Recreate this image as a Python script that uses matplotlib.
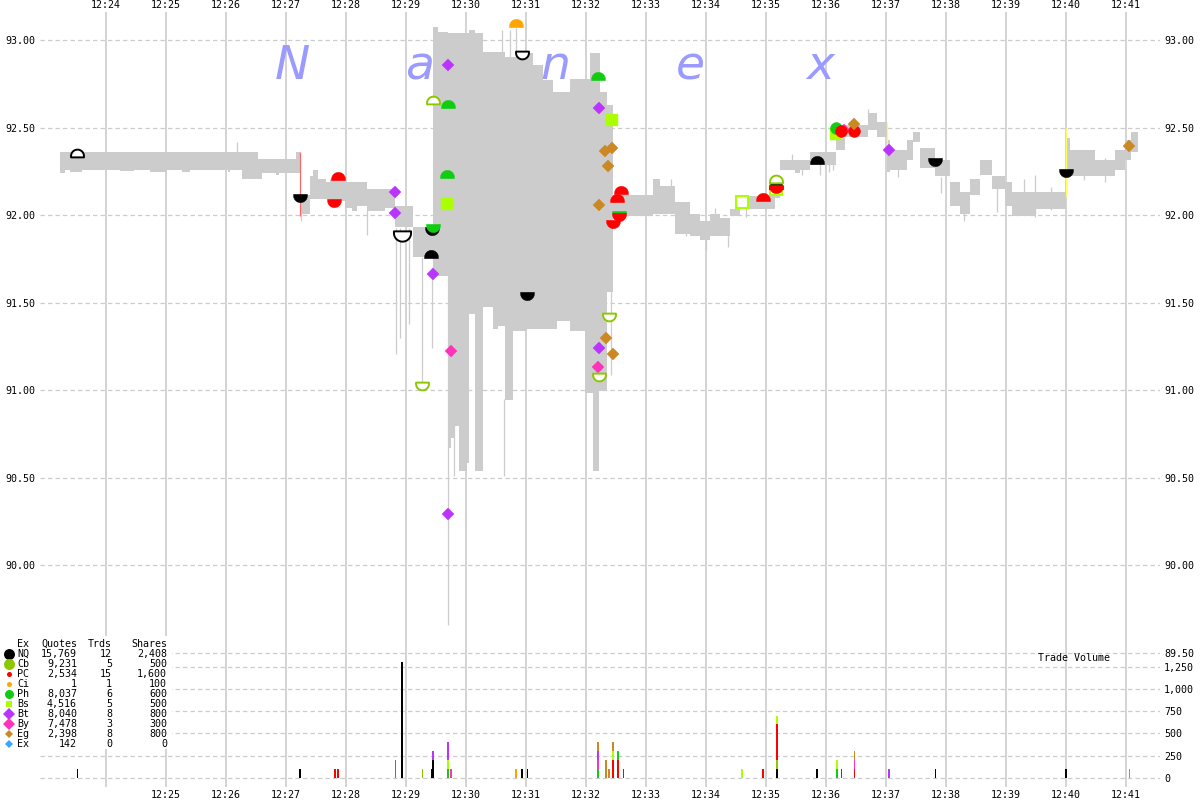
import numpy as np
import matplotlib.pyplot as plt
from matplotlib.path import Path

# --- data (time = minutes after 12:00, prices in $) ---
# quote band (bid/ask envelope), step values
band_t = [23.24, 23.32, 23.41, 23.61, 24.24, 24.47, 24.74, 25.02, 25.27, 25.41,
          26.04, 26.07, 26.27, 26.54, 26.61, 26.84, 26.89, 27.17, 27.24, 27.41,
          27.46, 27.54, 27.67, 27.74, 27.99, 28.10, 28.19, 28.36, 28.66, 28.82,
          29.12, 29.46, 29.54, 29.71, 29.76, 29.81, 29.89, 30.02, 30.06, 30.16,
          30.29, 30.46, 30.54, 30.66, 30.79, 30.86, 31.02, 31.12, 31.29, 31.46,
          31.52, 31.74, 31.99, 32.07, 32.12, 32.22, 32.24, 32.36, 32.46, 32.66,
          33.12, 33.24, 33.49, 33.74, 33.91, 34.07, 34.24, 34.41, 34.57, 35.16,
          35.24, 35.49, 35.57, 35.74, 36.17, 36.32, 36.71, 36.86, 37.02, 37.07,
          37.36, 37.46, 37.57, 37.82, 38.07, 38.24, 38.41, 38.57, 38.77, 38.99,
          39.11, 39.49, 40.01, 40.07, 40.49, 40.82, 40.99, 41.09, 41.21]
band_lo = [92.244, 92.257, 92.250, 92.257, 92.252, 92.257, 92.250, 92.257, 92.250, 92.257,
           92.250, 92.257, 92.205, 92.205, 92.244, 92.233, 92.244, 92.244, 92.006, 92.091,
           92.091, 92.091, 92.091, 92.080, 92.040, 92.023, 92.051, 92.023, 92.040, 91.932,
           91.761, 91.653, 91.653, 90.670, 90.727, 90.795, 90.540, 90.585, 91.438, 90.540,
           91.477, 91.352, 91.369, 90.943, 91.341, 91.341, 91.352, 91.352, 91.352, 91.352,
           91.398, 91.341, 90.983, 90.983, 90.540, 90.994, 90.994, 91.562, 92.006, 91.994,
           92.006, 92.006, 91.892, 91.881, 91.860, 91.881, 91.881, 91.994, 92.034, 92.100,
           92.261, 92.240, 92.261, 92.290, 92.375, 92.449, 92.489, 92.449, 92.250, 92.261,
           92.318, 92.420, 92.273, 92.222, 92.051, 92.006, 92.119, 92.233, 92.148, 92.051,
           91.994, 92.034, 92.222, 92.222, 92.222, 92.261, 92.318, 92.364, 92.364]
band_hi = [92.364, 92.364, 92.364, 92.364, 92.364, 92.364, 92.364, 92.364, 92.364, 92.364,
           92.364, 92.364, 92.364, 92.324, 92.324, 92.324, 92.324, 92.364, 92.119, 92.222,
           92.261, 92.205, 92.188, 92.205, 92.188, 92.188, 92.188, 92.153, 92.153, 92.051,
           91.932, 93.074, 93.045, 93.040, 93.040, 93.040, 93.040, 93.040, 93.057, 93.040,
           92.932, 92.932, 92.932, 92.903, 92.903, 92.926, 92.926, 92.858, 92.773, 92.705,
           92.705, 92.778, 92.778, 92.926, 92.926, 92.926, 92.705, 92.631, 92.119, 92.119,
           92.205, 92.165, 92.074, 92.006, 91.966, 92.006, 91.983, 92.034, 92.108, 92.147,
           92.318, 92.318, 92.318, 92.364, 92.443, 92.517, 92.585, 92.534, 92.432, 92.375,
           92.432, 92.477, 92.386, 92.318, 92.188, 92.131, 92.205, 92.318, 92.222, 92.188,
           92.131, 92.131, 92.443, 92.375, 92.318, 92.375, 92.432, 92.477, 92.477]

# thin quote spikes
spk_t = [26.19, 27.25, 28.36, 28.84, 28.90, 29.05, 29.27, 29.44, 29.71, 29.81,
         30.64, 30.75, 30.61, 30.74, 30.84, 32.42, 34.37, 35.10, 35.90, 36.05,
         37.93, 39.49, 33.43, 33.67, 34.00, 34.16, 34.67, 35.44, 35.61, 36.12,
         36.70, 37.20, 38.30, 38.85, 39.30, 39.75, 40.30, 40.65]
spk_lo = [92.36, 91.966, 91.886, 91.21, 91.30, 91.38, 91.02, 91.24, 89.66, 90.51,
          90.51, 90.97, 92.93, 92.90, 92.90, 91.085, 91.82, 92.10, 92.23, 92.25,
          92.13, 91.99, 92.05, 91.88, 91.80, 91.95, 91.99, 92.30, 92.23, 92.26,
          92.55, 92.22, 91.97, 92.02, 92.08, 92.03, 92.20, 92.19]
spk_hi = [92.42, 92.12, 92.03, 91.93, 91.93, 91.93, 91.76, 91.70, 91.65, 90.80,
          90.95, 91.35, 93.057, 93.057, 93.07, 91.57, 91.90, 92.19, 92.30, 92.30,
          92.22, 92.23, 92.21, 92.00, 91.95, 92.04, 92.04, 92.35, 92.30, 92.32,
          92.61, 92.30, 92.12, 92.17, 92.21, 92.16, 92.35, 92.33]

# coloured quote lines
qln_t = [27.238, 37.022, 40.005]
qln_lo = [91.994, 92.403, 92.102]
qln_hi = [92.364, 92.534, 92.500]

# trades, in drawing order
trd_ex = ['NQ', 'NQ', 'PC', 'PC', 'Bt', 'Bt', 'NQ', 'Cb', 'NQ', 'Ph',
          'NQ', 'Bt', 'Cb', 'Ph', 'Ph', 'Bs', 'Bt', 'Bt', 'By', 'Ci',
          'NQ', 'NQ', 'Ph', 'Bt', 'Bs', 'Eg', 'Eg', 'Eg', 'Eg', 'PC',
          'PC', 'Ph', 'PC', 'PC', 'Cb', 'Eg', 'Bt', 'Eg', 'By', 'Cb',
          'Bs', 'PC', 'Bs', 'NQ', 'PC', 'Cb', 'NQ', 'By', 'Bs', 'Ph',
          'PC', 'PC', 'Eg', 'Bt', 'NQ', 'NQ', 'Eg']
trd_t = [23.52, 27.24, 27.87, 27.81, 28.83, 28.83, 28.94, 29.27, 29.44, 29.46,
         29.43, 29.46, 29.46, 29.71, 29.69, 29.69, 29.71, 29.71, 29.76, 30.84,
         30.94, 31.02, 32.21, 32.23, 32.44, 32.32, 32.44, 32.37, 32.22, 32.52,
         32.59, 32.55, 32.55, 32.45, 32.39, 32.34, 32.23, 32.46, 32.21, 32.22,
         34.60, 34.96, 35.18, 35.18, 35.18, 35.18, 35.86, 36.30, 36.17, 36.17,
         36.26, 36.47, 36.48, 37.06, 37.82, 40.01, 41.06]
trd_p = [92.358, 92.097, 92.222, 92.068, 92.135, 92.015, 91.884, 91.023, 91.909, 91.926,
         91.778, 91.665, 92.661, 92.634, 92.239, 92.065, 92.858, 90.295, 91.223, 93.099,
         92.918, 91.540, 92.798, 92.615, 92.543, 92.365, 92.386, 92.284, 92.057, 92.100,
         92.145, 92.000, 91.991, 91.949, 91.420, 91.301, 91.239, 91.210, 91.131, 91.074,
         92.077, 92.105, 92.153, 92.176, 92.150, 92.210, 92.318, 92.490, 92.466, 92.500,
         92.483, 92.480, 92.523, 92.375, 92.307, 92.244, 92.394]
trd_kind = ['odome', 'bowl', 'dome', 'bowl', 'D', 'D', 'obowl', 'obowl', 'bowl', 'bowl',
            'dome', 'D', 'odome', 'dome', 'dome', 's', 'D', 'D', 'D', 'dome',
            'obowl', 'bowl', 'dome', 'D', 's', 'D', 'D', 'D', 'D', 'dome',
            'dome', 'bowl', 'bowl', 'bowl', 'obowl', 'D', 'D', 'D', 'D', 'obowl',
            'os', 'dome', 'os', 'dome', 'bowl', 'odome', 'dome', 'D', 's', 'o',
            'o', 'o', 'D', 'D', 'bowl', 'bowl', 'D']
trd_sh = [100] * len(trd_t)
trd_sh[6] = 1300

# trade volume (stacked per time)
vol_t = [23.53, 27.24, 27.82, 27.87, 28.83, 28.94, 29.28, 29.43, 29.455, 29.455,
         29.71, 29.71, 29.71, 29.76, 30.84, 30.94, 31.03, 32.21, 32.21, 32.21,
         32.21, 32.34, 32.39, 32.455, 32.455, 32.455, 32.545, 32.545, 32.63, 34.61,
         34.96, 35.195, 35.195, 35.195, 35.195, 35.86, 36.195, 36.195, 36.265, 36.48,
         36.48, 36.48, 37.06, 37.83, 40.01, 41.065]
vol_ex = ['NQ', 'NQ', 'PC', 'PC', 'Bt', 'NQ', 'Cb', 'NQ', 'NQ', 'Bt',
          'Ph', 'Bs', 'Bt', 'By', 'Ci', 'NQ', 'NQ', 'Ph', 'By', 'Bt',
          'Eg', 'Eg', 'Eg', 'PC', 'Bs', 'Eg', 'PC', 'Ph', 'PC', 'Bs',
          'PC', 'NQ', 'Cb', 'PC', 'Bs', 'NQ', 'Ph', 'Bs', 'PC', 'PC',
          'By', 'Eg', 'Bt', 'NQ', 'NQ', 'Eg']
vol_sh = [100, 100, 100, 100, 200, 1300, 100, 100, 200, 100,
          100, 100, 200, 100, 100, 100, 100, 100, 100, 100,
          100, 200, 100, 200, 100, 100, 200, 100, 100, 100,
          100, 100, 100, 400, 100, 100, 100, 100, 100, 100,
          100, 100, 100, 100, 100, 100]

# legend table
leg_ex = ['NQ', 'Cb', 'PC', 'Ci', 'Ph', 'Bs', 'Bt', 'By', 'Eg', 'Ex']
leg_quotes = [15769, 9231, 2534, 1, 8037, 4516, 8040, 7478, 2398, 142]
leg_trds = [12, 5, 15, 1, 6, 5, 8, 3, 8, 0]
leg_shares = [2408, 500, 1600, 100, 600, 500, 800, 300, 800, 0]

ex_color = {'NQ': '#000000', 'Cb': '#8cc800', 'PC': '#ff0000', 'Ci': '#ffa500',
            'Ph': '#11cc11', 'Bs': '#aaff00', 'Bt': '#bb33ff', 'By': '#ff33bb',
            'Eg': '#cc8822', 'Ex': '#33aaff'}
qln_color = ['#ff6666', '#ffff55', '#ffff55']

MONO = 'DejaVu Sans Mono'
GRID = '#cccccc'

# half disc markers (arc + short base, about 0.6 as tall as wide)
th = np.linspace(0, np.pi, 25)
v = np.column_stack([np.cos(th), np.sin(th) - 0.4])
v = np.vstack([[1, -0.6], v, [-1, -0.6], [1, -0.6]])
DOME = Path(v, closed=True)
BOWL = Path(v * [1, -1], closed=True)

fig = plt.figure(figsize=(12, 8), dpi=100)
L, R, T, B = 40, 1160, 12, 787
pos = [L / 1200, 1 - B / 800, (R - L) / 1200, (B - T) / 800]
xlim = (22.905, 41.572)
plim = (88.733, 93.162)
vlim = (-104.7, 8623)

ax = fig.add_axes(pos)
ax.set_xlim(xlim)
ax.set_ylim(plim)
for s in ax.spines.values():
    s.set_visible(False)
ax.set_axisbelow(True)

# top time labels + vertical grid
ax.xaxis.tick_top()
ax.set_xticks(range(24, 42))
ax.set_xticklabels(['12:%02d' % m for m in range(24, 42)], family=MONO, fontsize=7.2)
ax.tick_params(axis='x', length=0, pad=1.8)
ax.grid(axis='x', color=GRID, lw=1.2)

# price levels
plev = [89.5, 90.0, 90.5, 91.0, 91.5, 92.0, 92.5, 93.0]
ax.set_yticks(plev)
ax.set_yticklabels([''] + ['%.2f' % p for p in plev[1:]], family=MONO, fontsize=7.2)
ax.tick_params(axis='y', length=0, pad=3.6)
ax.grid(axis='y', color=GRID, lw=0.9, ls=(0, (3.5, 2.5)))

ax_r = ax.twinx()
ax_r.set_ylim(plim)
ax_r.set_yticks(plev)
ax_r.set_yticklabels(['%.2f' % p for p in plev], family=MONO, fontsize=7.2)
ax_r.tick_params(axis='y', length=0, pad=2.9)
for s in ax_r.spines.values():
    s.set_visible(False)

# quote band
ax.fill_between(band_t, band_lo, band_hi, step='post', color=GRID, lw=0, zorder=1)
ax.vlines(spk_t, spk_lo, spk_hi, color=GRID, lw=0.9, zorder=1)
ax.vlines(qln_t, qln_lo, qln_hi, colors=qln_color, lw=0.9, zorder=2)

# Nanex watermark
for ch, xp in zip('Nanex', [292, 420, 555, 690, 820]):
    ax.text(xp / 1200, 1 - 79 / 800, ch, transform=fig.transFigure, ha='center',
            va='baseline', fontsize=34, style='italic', color='#9a9aff', zorder=3)

# trades
for ex, t, p, kind, sh in zip(trd_ex, trd_t, trd_p, trd_kind, trd_sh):
    c = ex_color[ex]
    k = (sh / 100) ** 0.11
    if kind in ('dome', 'bowl', 'odome', 'obowl'):
        mk = DOME if kind.endswith('dome') else BOWL
        if kind.startswith('o'):
            ax.plot(t, p, marker=mk, ms=9.3 * k, mfc='white', mec=c, mew=1.4, ls='none', zorder=5)
        else:
            ax.plot(t, p, marker=mk, ms=10 * k, mfc=c, mec=c, mew=0.3, ls='none', zorder=5)
    elif kind == 'D':
        ax.plot(t, p, marker='D', ms=6.6, mfc=c, mec=c, mew=0.3, ls='none', zorder=5)
    elif kind == 's':
        ax.plot(t, p, marker='s', ms=9, mfc=c, mec=c, mew=0.3, ls='none', zorder=5)
    elif kind == 'os':
        ax.plot(t, p, marker='s', ms=8, mfc='white', mec=c, mew=1.5, ls='none', zorder=5)
    else:
        ax.plot(t, p, marker='o', ms=8.6, mfc=c, mec=c, mew=0.3, ls='none', zorder=5)

# volume panel
ax_v = fig.add_axes(pos)
ax_v.set_zorder(ax_r.get_zorder() + 1)
ax_v.patch.set_visible(False)
ax_v.set_xlim(xlim)
ax_v.set_ylim(vlim)
for s in ax_v.spines.values():
    s.set_visible(False)
ax_v.set_xticks(range(25, 42))
ax_v.set_xticklabels(['12:%02d' % m for m in range(25, 42)], family=MONO, fontsize=7.2)
ax_v.tick_params(axis='x', length=0, pad=1.8)
vlev = [0, 250, 500, 750, 1000, 1250]
ax_v.yaxis.tick_right()
ax_v.set_yticks(vlev)
ax_v.set_yticklabels(['{:,}'.format(x) for x in vlev], family=MONO, fontsize=7.2)
ax_v.tick_params(axis='y', length=0, pad=2.9)
ax_v.grid(axis='y', color=GRID, lw=0.9, ls=(0, (3.5, 2.5)))

bottoms = {}
for t, ex, sh in zip(vol_t, vol_ex, vol_sh):
    b = bottoms.get(t, 0)
    ax_v.bar(t, sh, width=0.03, bottom=b, color=ex_color[ex], lw=0, zorder=3)
    bottoms[t] = b + sh

# overlay in pixel coordinates for legend and labels
ov = fig.add_axes([0, 0, 1, 1])
ov.set_xlim(0, 1200)
ov.set_ylim(800, 0)
ov.set_axis_off()
ov.set_zorder(ax_v.get_zorder() + 1)
ov.add_patch(plt.Rectangle((0, 636), 172, 113, color='white', lw=0))

leg_mk = ['o', 'o', 'o', 'o', 'o', 's', 'D', 'D', 'D', 'D']
leg_ms = [7.9, 7.9, 3.6, 3.6, 6.5, 4.3, 6.1, 6.1, 3.6, 3.6]
fs = 7.2
ov.text(17, 644, 'Ex', family=MONO, fontsize=fs, va='center')
ov.text(77, 644, 'Quotes', family=MONO, fontsize=fs, va='center', ha='right')
ov.text(112, 644, 'Trds', family=MONO, fontsize=fs, va='center', ha='right')
ov.text(167, 644, 'Shares', family=MONO, fontsize=fs, va='center', ha='right')
for i, ex in enumerate(leg_ex):
    y = 654 + 10 * i
    ov.plot(8.5, y, marker=leg_mk[i], ms=leg_ms[i], color=ex_color[ex], mew=0)
    ov.text(17, y, ex, family=MONO, fontsize=fs, va='center')
    ov.text(77, y, '{:,}'.format(leg_quotes[i]), family=MONO, fontsize=fs, va='center', ha='right')
    ov.text(112, y, '{:,}'.format(leg_trds[i]), family=MONO, fontsize=fs, va='center', ha='right')
    ov.text(167, y, '{:,}'.format(leg_shares[i]), family=MONO, fontsize=fs, va='center', ha='right')

ov.text(1038, 658, 'Trade Volume', family=MONO, fontsize=fs, va='center')

fig.savefig('out.png', dpi=100)
